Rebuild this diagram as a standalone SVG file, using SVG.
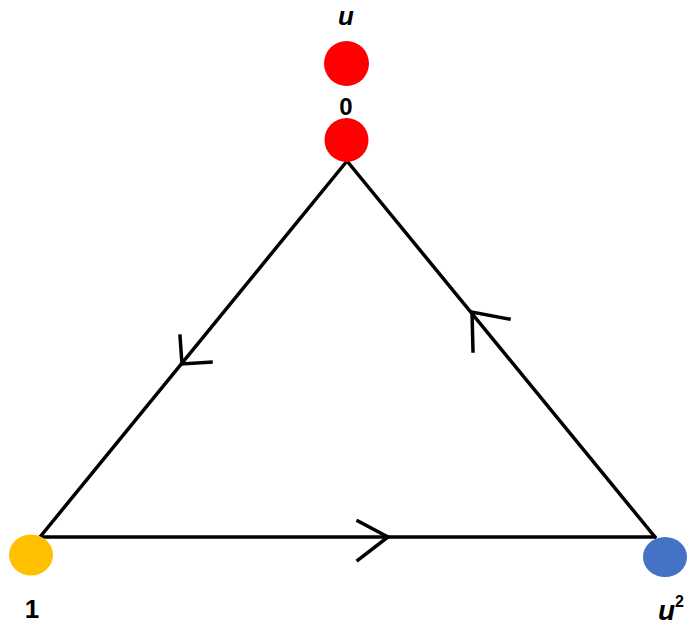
<svg xmlns="http://www.w3.org/2000/svg" width="689" height="626" viewBox="0 0 689 626">
<style>
.edge{stroke:#000;stroke-width:3.5;fill:none;stroke-linecap:round;}
.chev{stroke:#000;stroke-width:3.5;fill:none;stroke-linecap:square;stroke-linejoin:miter;}
.lbl{font-family:"Liberation Sans",Arial,sans-serif;font-weight:bold;fill:#000;text-anchor:middle;}
</style>
<rect width="689" height="626" fill="#fff"/>
<g id="connectors">
<line class="edge" x1="347" y1="161" x2="40" y2="537"/>
<line class="edge" x1="347" y1="161" x2="655" y2="537"/>
<line class="edge" x1="40" y1="537" x2="655" y2="537"/>
<path class="chev" d="M180,336 L182,364 L211,362"/>
<path class="chev" d="M473,351 L472,312 L509,319"/>
<path class="chev" d="M358,521 L388,537 L358,560"/>
</g>
<g id="node-u">
<circle cx="346.5" cy="63.5" r="22.5" fill="#ff0000"/>
<text class="lbl" x="346" y="25" font-size="26" font-style="italic">u</text>
</g>
<g id="node-0">
<text class="lbl" x="346" y="115" font-size="24">0</text>
<circle cx="346.5" cy="140" r="22" fill="#ff0000"/>
</g>
<g id="node-1">
<ellipse cx="31" cy="555" rx="22" ry="20.5" fill="#ffc000"/>
<text class="lbl" x="32" y="618" font-size="26">1</text>
</g>
<g id="node-u2">
<ellipse cx="665" cy="557" rx="22" ry="20" fill="#4472c4"/>
<text class="lbl" x="671" y="620" font-size="28" font-style="italic">u<tspan font-size="16" dy="-13" font-style="normal">2</tspan></text>
</g>
</svg>
